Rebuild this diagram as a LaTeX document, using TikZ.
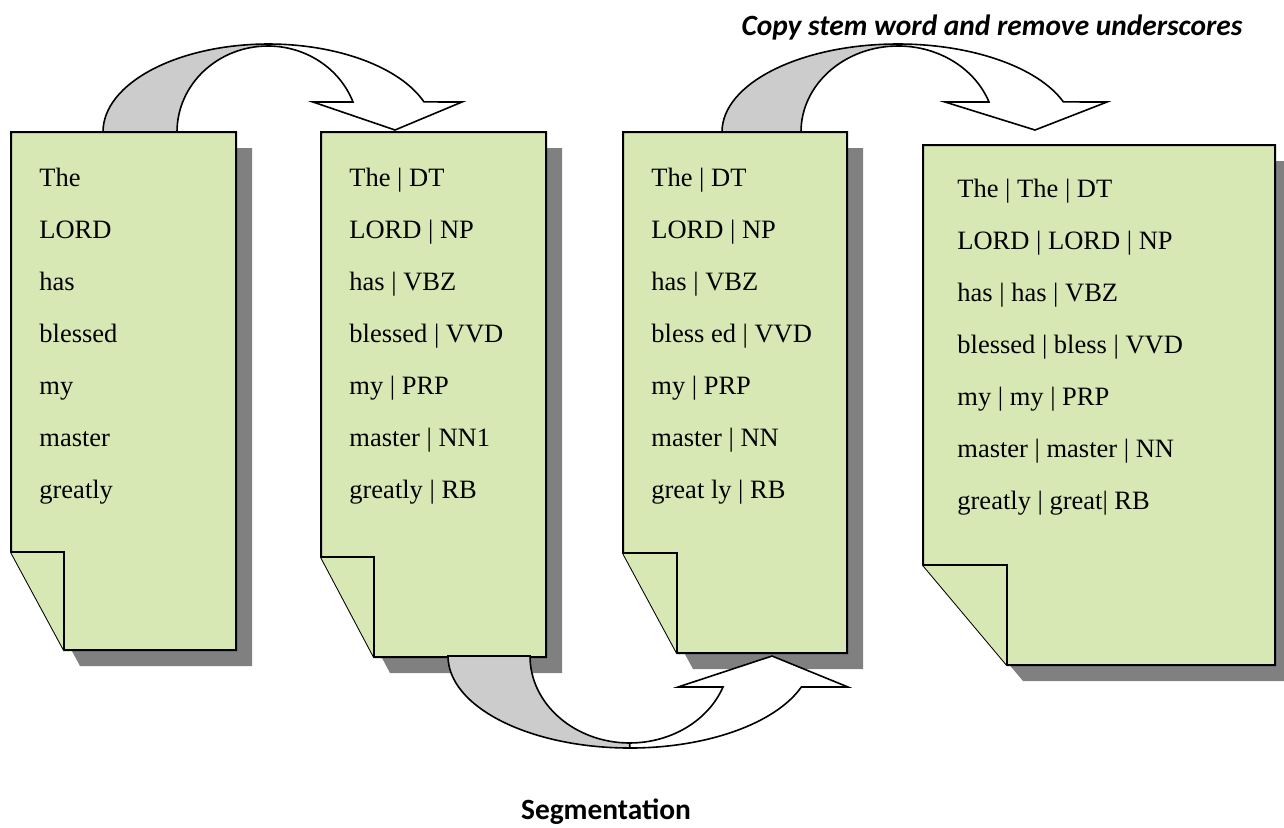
\documentclass[tikz,border=0pt]{standalone}
\usepackage{fontspec}
\setmainfont{Liberation Serif}
\newfontfamily\labelfont{Carlito}
\definecolor{sheetgreen}{RGB}{216,232,180}
\definecolor{ribbongray}{RGB}{204,204,204}

\begin{document}
\begin{tikzpicture}[x=0.5pt, y=-0.5pt,
        sheet/.style={draw=black, line width=1pt, fill=sheetgreen},
        shade/.style={fill=black!50, draw=none, shift={(16,16)}},
        back/.style={draw=black, line width=0.8pt, fill=ribbongray},
        front/.style={draw=black, line width=0.8pt, fill=white},
        words/.style={anchor=north west, inner sep=0pt, align=left, font=\fontsize{13.25}{26}\selectfont},
        caption/.style={font=\labelfont\bfseries\fontsize{14.7}{17}\selectfont}]
        \useasboundingbox (0,0) rectangle (1284,827);
        % shadows
        \fill[shade] (11,132) -- (236,132) -- (236,650) -- (64,650) -- (11,552) -- cycle;
        \fill[shade] (321,132) -- (546,132) -- (546,657) -- (374,657) -- (321,557) -- cycle;
        \fill[shade] (623,132) -- (847,132) -- (847,653) -- (677,653) -- (623,553) -- cycle;
        \fill[shade] (923,145) -- (1275,145) -- (1275,665) -- (1007,665) -- (923,565) -- cycle;
        % sheets with folded corner
        \draw[sheet] (11,132) -- (236,132) -- (236,650) -- (64,650) -- (11,552) -- cycle;
        \draw[sheet] (11,552) -- (64,552) -- (64,650);
        \draw[sheet] (321,132) -- (546,132) -- (546,657) -- (374,657) -- (321,557) -- cycle;
        \draw[sheet] (321,557) -- (374,557) -- (374,657);
        \draw[sheet] (623,132) -- (847,132) -- (847,653) -- (677,653) -- (623,553) -- cycle;
        \draw[sheet] (623,553) -- (677,553) -- (677,653);
        \draw[sheet] (923,145) -- (1275,145) -- (1275,665) -- (1007,665) -- (923,565) -- cycle;
        \draw[sheet] (923,565) -- (1007,565) -- (1007,665);
        \node[words] (raw) at (39,168) {The\\LORD\\has\\blessed\\my\\master\\greatly};
        \node[words] (tagged) at (349,168) {The | DT\\LORD | NP\\has | VBZ\\blessed | VVD\\my | PRP\\master | NN1\\greatly | RB};
        \node[words] (segmented) at (651,168) {The | DT\\LORD | NP\\has | VBZ\\bless ed | VVD\\my | PRP\\master | NN\\great ly | RB};
        \node[words] (stemmed) at (957,179) {The | The | DT\\LORD | LORD | NP\\has | has | VBZ\\blessed | bless | VVD\\my | my | PRP\\master | master | NN\\greatly | great| RB};
        % curved arrows
        \draw[back] (103,132) arc[start angle=180, end angle=90, x radius=83pt, y radius=44pt] -- (268,46)
            arc[start angle=90, end angle=180, x radius=45.5pt, y radius=43pt] -- cycle;
        \draw[front] (268,44) arc[start angle=90, end angle=20, x radius=83pt, y radius=44pt] -- (462,102) -- (395,130)
            -- (313,102) -- (353,102) arc[start angle=20.4, end angle=90, x radius=45.5pt, y radius=43pt] -- cycle;
        \draw[back] (722,132) arc[start angle=180, end angle=90, x radius=88pt, y radius=44pt] -- (898,46)
            arc[start angle=90, end angle=180, x radius=48.5pt, y radius=43pt] -- cycle;
        \draw[front] (898,44) arc[start angle=90, end angle=20, x radius=88pt, y radius=44pt] -- (1107,102) -- (1035,130)
            -- (945,102) -- (989,102) arc[start angle=20.4, end angle=90, x radius=48.5pt, y radius=43pt] -- cycle;
        \draw[back] (448,656) arc[start angle=180, end angle=270, x radius=91pt, y radius=46pt] -- (630,743)
            arc[start angle=270, end angle=180, x radius=50pt, y radius=43.5pt] -- cycle;
        \draw[front] (630,748) arc[start angle=270, end angle=340.3, x radius=91pt, y radius=46pt] -- (848,687) -- (772,656)
            -- (678,687) -- (723,687) arc[start angle=339.1, end angle=270, x radius=50pt, y radius=43.5pt] -- cycle;
        \node[caption] (copy) at (992,27) {\itshape Copy stem word and remove underscores};
        \node[caption] (seg) at (606,812) {Segmentation};
      \end{tikzpicture}
\end{document}
